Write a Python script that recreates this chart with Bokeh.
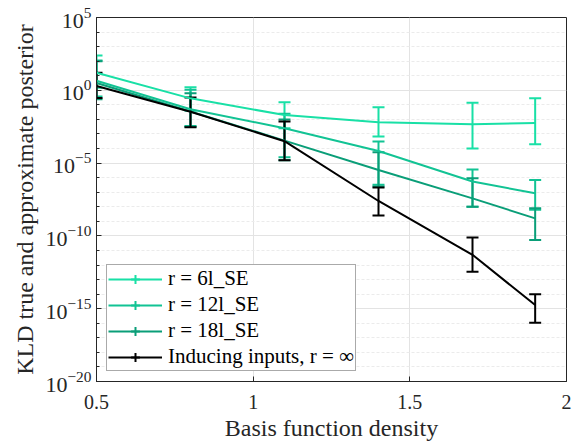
from bokeh.plotting import figure
from bokeh.models import Whisker, ColumnDataSource, FixedTicker, Legend, LegendItem, TeeHead
from bokeh.embed import file_html
from bokeh.resources import INLINE

x = [0.5, 0.8, 1.1, 1.4, 1.7, 1.9]

r6_mid = [16, 0.28, 0.02, 6.3e-3, 4.7e-3, 5.6e-3]
r6_up = [250, 1.6, 0.15, 0.068, 0.14, 0.28]
r6_lo = [1.5, 0.04, 2.5e-3, 6.6e-4, 1.0e-4, 2.0e-4]

r12_mid = [4.5, 0.05, 2.5e-3, 6.8e-5, 5.4e-7, 8.5e-8]
r12_up = [110, 1.1, 0.025, 3.0e-4, 3.7e-6, 6.9e-7]
r12_lo = [0.37, 3.5e-3, 2.5e-5, 3.2e-7, 1.0e-8, 6.3e-9]

r18_mid = [3.2, 0.035, 3.5e-4, 3.4e-6, 3.8e-8, 1.6e-9]
r18_up = [100, 0.63, 0.01, 5.5e-5, 9.1e-7, 7.9e-9]
r18_lo = [0.24, 3.2e-3, 1.6e-5, 2.5e-7, 1.0e-8, 5.2e-11]

ind_mid = [2.0, 0.034, 3.2e-4, 2.5e-8, 5.0e-12, 1.8e-15]
ind_up = [16, 0.32, 7.1e-3, 2.1e-7, 7.9e-11, 1.0e-14]
ind_lo = [0.3, 2.9e-3, 1.6e-5, 2.5e-9, 3.5e-13, 1.1e-16]

labels = ["r = 6l_SE", "r = 12l_SE", "r = 18l_SE", "Inducing inputs, r = ∞"]
colors = ["#19e0a6", "#12c394", "#0a9e78", "#000000"]

y_major = [1e-20, 1e-15, 1e-10, 1e-5, 1e0, 1e5]
y_minor = [10.0 ** k for k in range(-20, 6)]
x_ticks = [0.5, 1, 1.5, 2]

FONT = "Liberation Serif"
AX = "#262626"

p = figure(frame_width=470, frame_height=364, y_axis_type="log",
           x_range=(0.5, 2), y_range=(1e-20, 1e5),
           output_backend="svg", toolbar_location=None,
           min_border_left=96, min_border_right=7, min_border_top=17, min_border_bottom=60)

p.background_fill_color = "white"
p.outline_line_color = AX
p.outline_line_width = 1

p.xaxis.ticker = FixedTicker(ticks=x_ticks)
p.yaxis.ticker = FixedTicker(ticks=y_major, minor_ticks=y_minor)
p.xgrid.ticker = FixedTicker(ticks=x_ticks)
p.ygrid.ticker = FixedTicker(ticks=y_major, minor_ticks=y_minor)

for ax in (p.xaxis, p.yaxis):
    ax.axis_line_color = AX
    ax.major_tick_line_color = AX
    ax.minor_tick_line_color = AX
    ax.major_tick_in = 5
    ax.major_tick_out = 0
    ax.minor_tick_in = 3
    ax.minor_tick_out = 0
    ax.major_label_text_font = FONT
    ax.major_label_text_color = AX
    ax.axis_label_text_font = FONT
    ax.axis_label_text_font_size = "24px"
    ax.axis_label_text_color = AX
    ax.axis_label_text_font_style = "normal"

p.xaxis.major_label_text_font_size = "20px"
p.yaxis.major_label_text_font_size = "22px"
p.xaxis.axis_label = "Basis function density"
p.yaxis.axis_label = "KLD true and approximate posterior"
p.xaxis.major_label_standoff = 13
p.xaxis.axis_label_standoff = 3
p.yaxis.major_label_standoff = 5
p.yaxis.axis_label_standoff = 4

p.xgrid.grid_line_color = "#e3e3e3"
p.ygrid.grid_line_color = "#e3e3e3"
p.ygrid.minor_grid_line_color = "#ebebeb"
p.ygrid.minor_grid_line_dash = "3 2"

series = [
    (r6_mid, r6_up, r6_lo),
    (r12_mid, r12_up, r12_lo),
    (r18_mid, r18_up, r18_lo),
    (ind_mid, ind_up, ind_lo),
]

items = []
for (mid, up, lo), c, lab in zip(series, colors, labels):
    src = ColumnDataSource(dict(x=x, y=mid, up=up, lo=lo))
    ln = p.line("x", "y", source=src, line_color=c, line_width=2)
    w = Whisker(base="x", upper="up", lower="lo", source=src, dimension="height",
                line_color=c, line_width=2,
                upper_head=TeeHead(size=12, line_color=c, line_width=2),
                lower_head=TeeHead(size=12, line_color=c, line_width=2))
    p.add_layout(w)
    # legend-only marker kept outside the visible range
    mk = p.scatter([-10], [1], marker="cross", size=14, line_color=c, line_width=2)
    items.append(LegendItem(label=lab, renderers=[ln, mk]))

legend = Legend(items=items, location="bottom_left")
legend.label_text_font = FONT
legend.label_text_font_size = "21px"
legend.label_text_color = "black"
legend.border_line_color = "#555555"
legend.border_line_width = 1
legend.glyph_width = 54
legend.glyph_height = 22
legend.label_height = 22
legend.spacing = 1
legend.padding = 1
legend.margin = 10
legend.label_standoff = 6
legend.background_fill_alpha = 1
p.add_layout(legend, "center")

open("out.html", "w").write(file_html(p, INLINE))
